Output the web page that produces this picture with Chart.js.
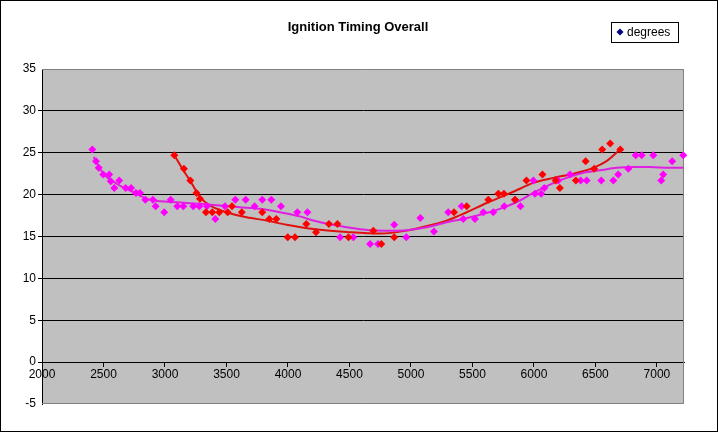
<!DOCTYPE html>
<html>
<head>
<meta charset="utf-8">
<script src="https://cdn.jsdelivr.net/npm/chart.js@4.4.1/dist/chart.umd.min.js"></script>
<style>
  html, body { margin: 0; padding: 0; background: #fff; }
  #wrap { width: 718px; height: 432px; }
</style>
</head>
<body>
<div id="wrap"><canvas id="chart" width="718" height="432"></canvas></div>
<script>
// ---------- DATA ----------
const xTicks = [2000, 2500, 3000, 3500, 4000, 4500, 5000, 5500, 6000, 6500, 7000];
const yTicks = [-5, 0, 5, 10, 15, 20, 25, 30, 35];

const pinkRpm = [2409, 2439, 2461, 2498, 2547, 2559, 2628, 2588, 2680, 2724, 2764, 2797, 2840, 2902, 2924, 2994,
  3046, 3100, 3149, 3230, 3279, 3341, 3409, 3488, 3572, 3656, 3729, 3791, 3864, 3943, 4076, 4158,
  4424, 4531, 4668, 4732, 4864, 4962, 5076, 5187, 5303, 5412, 5425, 5520, 5588, 5669, 5759, 5846,
  5890, 5995, 6008, 6059, 6084, 6198, 6293, 6380, 6429, 6547, 6645, 6685, 6767, 6827, 6876, 6970,
  7035, 7051, 7124, 7214];
const pinkDeg = [25.4, 24.0, 23.2, 22.4, 22.4, 21.6, 21.7, 20.8, 20.8, 20.8, 20.2, 20.2, 19.4, 19.4, 18.6, 17.9,
  19.4, 18.6, 18.6, 18.6, 18.6, 18.6, 17.1, 18.6, 19.4, 19.4, 18.6, 19.4, 19.4, 18.6, 17.9, 17.9,
  14.9, 14.9, 14.1, 14.1, 16.4, 14.9, 17.2, 15.6, 17.9, 18.6, 17.1, 17.1, 17.9, 17.9, 18.6, 19.4,
  18.6, 21.7, 20.1, 20.1, 20.8, 21.7, 22.4, 21.7, 21.7, 21.7, 21.7, 22.4, 23.1, 24.7, 24.7, 24.7,
  21.7, 22.4, 24.0, 24.7];

const redRpm = [3076, 3154, 3206, 3256, 3284, 3333, 3385, 3441, 3510, 3545, 3624, 3791, 3848, 3905, 3998, 4057,
  4149, 4228, 4333, 4402, 4492, 4694, 4759, 4864, 5350, 5453, 5629, 5710, 5756, 5846, 5939, 6069,
  6176, 6211, 6341, 6420, 6490, 6555, 6620, 6702];
const redDeg = [24.7, 23.1, 21.7, 20.2, 19.5, 17.9, 17.9, 17.9, 17.9, 18.6, 17.9, 17.9, 17.1, 17.1, 14.9, 14.9,
  16.5, 15.5, 16.5, 16.5, 14.9, 15.7, 14.1, 14.9, 17.9, 18.6, 19.4, 20.1, 20.1, 19.4, 21.7, 22.4,
  21.7, 20.8, 21.7, 24.0, 23.1, 25.4, 26.1, 25.4];

// trend lines
const pinkTrendRpm = [2420, 2498, 2607, 2742, 2851, 2959, 3095, 3285, 3447, 3610, 3772, 3935, 4098, 4206, 4477,
  4667, 4856, 4965, 5128, 5290, 5425, 5615, 5778, 5886, 5994, 6130, 6265, 6401, 6537, 6672, 6807, 6943, 7106, 7214];
const pinkTrendDeg = [24.5, 22.5, 21.3, 20.3, 19.5, 19.2, 19.1, 18.9, 18.7, 18.5, 18.3, 17.9, 17.4, 16.9, 16.1,
  15.75, 15.7, 15.75, 16.1, 16.7, 17.1, 17.8, 18.6, 19.3, 20.2, 21.2, 22.0, 22.6, 22.9, 23.2, 23.3, 23.3, 23.2, 23.2];

const redTrendRpm = [3076, 3149, 3203, 3285, 3366, 3501, 3664, 3826, 3989, 4206, 4477, 4748, 4965, 5154, 5290,
  5453, 5615, 5778, 5886, 5994, 6157, 6320, 6482, 6590, 6700];
const redTrendDeg = [24.7, 22.9, 21.7, 19.7, 18.7, 17.9, 17.3, 16.9, 16.4, 15.9, 15.55, 15.35, 15.7, 16.35, 16.9,
  17.9, 19.0, 20.0, 20.7, 21.4, 22.0, 22.5, 23.2, 24.0, 25.4];

const chartTitle = "Ignition Timing Overall";
const legendLabel = "degrees";

// ---------- HELPERS ----------
function pts(xs, ys) {
  return xs.map((x, i) => ({ x, y: ys[i] }));
}

const FONT = "'Liberation Sans', Arial, sans-serif";

const frame = {
  id: "frame",
  beforeDraw(chart) {
    const { ctx, chartArea: a } = chart;
    ctx.save();
    ctx.fillStyle = "#fff";
    ctx.fillRect(0, 0, chart.width, chart.height);
    ctx.fillStyle = "#c0c0c0";
    ctx.fillRect(a.left, a.top, a.right - a.left, a.bottom - a.top);
    ctx.restore();
  },
  beforeDatasetsDraw(chart) {
    const { ctx, chartArea: a } = chart;
    ctx.save();
    ctx.strokeStyle = "#808080";
    ctx.lineWidth = 1;
    ctx.beginPath();
    ctx.moveTo(a.left, a.top + 0.5);
    ctx.lineTo(a.right - 0.5, a.top + 0.5);
    ctx.lineTo(a.right - 0.5, a.bottom - 0.5);
    ctx.lineTo(a.left, a.bottom - 0.5);
    ctx.stroke();
    ctx.restore();
  },
  afterDraw(chart) {
    const ctx = chart.ctx;
    ctx.save();
    // outer border
    ctx.strokeStyle = "#000";
    ctx.lineWidth = 1;
    ctx.strokeRect(0.5, 0.5, chart.width - 1, chart.height - 1);
    // title
    ctx.fillStyle = "#000";
    ctx.font = "bold 13px " + FONT;
    ctx.textAlign = "center";
    ctx.textBaseline = "middle";
    ctx.fillText(chartTitle, 358, 27);
    // legend
    ctx.strokeRect(611.5, 22.5, 67, 20);
    ctx.fillStyle = "#000080";
    ctx.beginPath();
    ctx.moveTo(620, 28.5);
    ctx.lineTo(623.5, 32);
    ctx.lineTo(620, 35.5);
    ctx.lineTo(616.5, 32);
    ctx.closePath();
    ctx.fill();
    ctx.fillStyle = "#000";
    ctx.font = "12px " + FONT;
    ctx.textAlign = "left";
    ctx.fillText(legendLabel, 627, 32.5);
    ctx.restore();
  },
};

new Chart(document.getElementById("chart"), {
  type: "scatter",
  data: {
    datasets: [
      {
        label: "pink trend",
        type: "line",
        data: pts(pinkTrendRpm, pinkTrendDeg),
        borderColor: "#e020e0",
        borderWidth: 2,
        pointRadius: 0,
        cubicInterpolationMode: "monotone",
        fill: false,
        order: 3,
      },
      {
        label: "red trend",
        type: "line",
        data: pts(redTrendRpm, redTrendDeg),
        borderColor: "#e01010",
        borderWidth: 2,
        pointRadius: 0,
        cubicInterpolationMode: "monotone",
        fill: false,
        order: 4,
      },
      {
        label: legendLabel,
        data: pts(pinkRpm, pinkDeg),
        backgroundColor: "#ff00ff",
        borderColor: "#ff00ff",
        borderWidth: 0,
        pointStyle: "rectRot",
        pointRadius: 4,
        clip: false,
        order: 2,
      },
      {
        label: "red",
        data: pts(redRpm, redDeg),
        backgroundColor: "#ff0000",
        borderColor: "#ff0000",
        borderWidth: 0,
        pointStyle: "rectRot",
        pointRadius: 4,
        clip: false,
        order: 1,
      },
    ],
  },
  options: {
    responsive: false,
    animation: false,
    layout: { padding: { left: 0, top: 69, right: 34, bottom: 28 } },
    plugins: {
      legend: { display: false },
      title: { display: false },
      tooltip: { enabled: false },
    },
    scales: {
      x: {
        type: "linear",
        position: { y: 0 },
        min: 2000,
        max: 7220,
        afterBuildTicks: (s) => { s.ticks = xTicks.map((v) => ({ value: v })); },
        grid: { drawOnChartArea: false, drawTicks: true, tickLength: 4, color: "#000" },
        border: { display: true, color: "#000", width: 1 },
        ticks: {
          color: "#000",
          font: { family: FONT, size: 12 },
          padding: 1,
          maxRotation: 0,
          autoSkip: false,
          callback: (v) => String(v),
        },
      },
      y: {
        min: -5,
        max: 35,
        afterBuildTicks: (s) => { s.ticks = yTicks.map((v) => ({ value: v })); },
        afterFit: (s) => { s.width = 42; },
        grid: {
          drawTicks: true,
          tickLength: 4,
          color: (c) => (c.tick && (c.tick.value === -5 || c.tick.value === 35) ? "rgba(0,0,0,0)" : "#000"),
        },
        border: { display: true, color: "#000", width: 1 },
        ticks: { color: "#000", font: { family: FONT, size: 12 }, padding: 2, callback: (v) => String(v) },
      },
    },
  },
  plugins: [frame],
});
</script>
</body>
</html>
